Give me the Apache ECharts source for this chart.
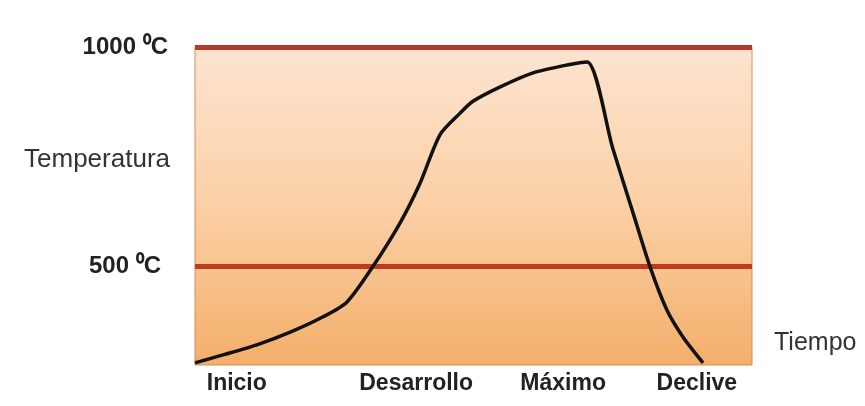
<!DOCTYPE html>
<html>
<head>
<meta charset="utf-8">
<script src="https://cdn.jsdelivr.net/npm/echarts@6/dist/echarts.min.js"></script>
<style>html,body{margin:0;padding:0;background:#fff}#c{width:865px;height:406px}</style>
</head>
<body>
<div id="c"></div>
<script>
// Curve (time, temperature)
var timeValues = [0, 5.0, 11.1, 17.1, 23.0, 27.3, 32.0, 36.8, 40.4, 44.0, 47.6, 49.9, 54.8, 60.7, 66.8, 70.4, 75.0, 78.6, 81.7, 84.7, 87.6, 91.2];
var tempValues = [279, 297, 320, 349, 384, 418, 500, 598, 689, 800, 849, 876, 909, 941, 959, 966, 769, 623, 498, 400, 338, 279];
// Reference lines
var refLines = [500, 1000];
// Axis labels
var yLabelValues = [500, 742, 1000];
var yLabelTexts = ['500 \u2070C', 'Temperatura', '1000 \u2070C'];
var phasePositions = [7.5, 39.7, 66.1, 90.1];
var phaseLabels = ['Inicio', 'Desarrollo', 'M\u00e1ximo', 'Declive'];
var xAxisName = 'Tiempo';

var data = timeValues.map(function (t, i) { return [t, tempValues[i]]; });

var chart = echarts.init(document.getElementById('c'));
chart.setOption({
  animation: false,
  grid: {
    left: 195, right: 113, top: 47, bottom: 41,
    show: true,
    borderColor: '#d08e5a',
    borderWidth: 1,
    backgroundColor: {
      type: 'linear', x: 0, y: 0, x2: 0, y2: 1,
      colorStops: [
        { offset: 0, color: '#fde4d0' },
        { offset: 0.5, color: '#fbd0a6' },
        { offset: 1, color: '#f4ae6a' }
      ]
    }
  },
  xAxis: {
    type: 'value', min: 0, max: 100,
    name: xAxisName,
    nameLocation: 'end',
    nameGap: 22,
    nameTextStyle: { fontFamily: 'Liberation Sans', fontSize: 25, color: '#333', verticalAlign: 'bottom', padding: [0, 0, 9, 0] },
    axisLine: { show: false },
    axisTick: { show: false },
    splitLine: { show: false },
    axisLabel: {
      customValues: phasePositions,
      margin: 7,
      fontFamily: 'Liberation Sans', fontSize: 23, fontWeight: 'bold', color: '#222',
      formatter: function (v) {
        var i = phasePositions.indexOf(v);
        return i >= 0 ? phaseLabels[i] : '';
      }
    }
  },
  yAxis: {
    type: 'value', min: 274, max: 1000,
    axisLine: { show: false },
    axisTick: { show: false },
    splitLine: { show: false },
    axisLabel: {
      customValues: yLabelValues,
      margin: 27,
      formatter: function (v) {
        var i = yLabelValues.indexOf(v);
        if (i < 0) return '';
        if (yLabelTexts[i] === 'Temperatura') return '{n|' + yLabelTexts[i] + '}';
        if (v === 500) return '{b5|' + yLabelTexts[i] + '}';
        return '{b|' + yLabelTexts[i] + '}';
      },
      rich: {
        n: { fontFamily: 'Liberation Sans', fontSize: 26, color: '#333', padding: [0, -2, 0, 0] },
        b: { fontFamily: 'Liberation Sans', fontSize: 24, fontWeight: 'bold', color: '#222' },
        b5: { fontFamily: 'Liberation Sans', fontSize: 24, fontWeight: 'bold', color: '#222', padding: [0, 7, 0, 0] }
      }
    }
  },
  series: [{
    type: 'line',
    data: data,
    symbol: 'none',
    smooth: 0.25,
    lineStyle: { color: '#111', width: 3.5 },
    z: 5,
    markLine: {
      silent: true,
      symbol: 'none',
      label: { show: false },
      z: 3,
      data: [
        { yAxis: refLines[0], lineStyle: { color: '#c23a1c', width: 5, type: 'solid' } },
        { yAxis: refLines[1], lineStyle: { color: '#b8382c', width: 5, type: 'solid' } }
      ]
    }
  }]
});
</script>
</body>
</html>
